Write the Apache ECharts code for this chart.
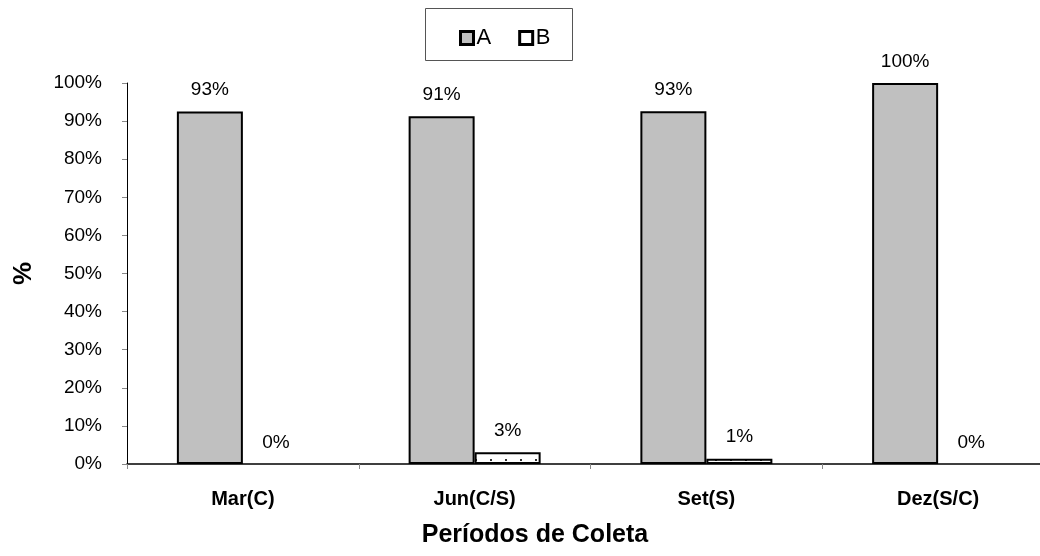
<!DOCTYPE html>
<html>
<head>
<meta charset="utf-8">
<script src="https://cdn.jsdelivr.net/npm/echarts@6/dist/echarts.min.js"></script>
<style>html,body{margin:0;padding:0;background:#fff;}#c{width:1040px;height:556px;}</style>
</head>
<body>
<div id="c"></div>
<script>
var categories = ['Mar(C)', 'Jun(C/S)', 'Set(S)', 'Dez(S/C)'];
var seriesA = [92.5, 91.3, 92.6, 100];
var seriesB = [0, 3.1, 1.4, 0];
var yTicks = [0, 10, 20, 30, 40, 50, 60, 70, 80, 90, 100];

var FONT = '"Liberation Sans", Arial, sans-serif';

var pc = document.createElement('canvas');
pc.width = 15; pc.height = 16;
var g = pc.getContext('2d');
g.fillStyle = '#fff'; g.fillRect(0, 0, 15, 16);
g.fillStyle = '#333';
g.fillRect(3, 3, 2, 2);
g.fillRect(10, 11, 2, 2);

function toItems(arr) {
  return arr.map(function (v) {
    return v === 0 ? { value: v, itemStyle: { borderWidth: 0 } } : v;
  });
}

var chart = echarts.init(document.getElementById('c'));
var labelCfg = {
  show: true, position: 'top', distance: 12,
  fontFamily: FONT, fontSize: 19, color: '#000',
  formatter: function (p) { return Math.round(p.value) + '%'; }
};
chart.setOption({
  animation: false,
  backgroundColor: '#fff',
  graphic: [
    { type: 'rect', shape: { x: 425.5, y: 8.5, width: 147, height: 52 },
      style: { fill: 'none', stroke: '#555', lineWidth: 1 } },
    { type: 'text', x: 535, y: 535,
      style: { text: 'Períodos de Coleta', fontFamily: FONT, fontSize: 25, fontWeight: 'bold',
        fill: '#000', textAlign: 'center', textVerticalAlign: 'middle' } }
  ],
  legend: {
    left: 454, top: 22, itemWidth: 13, itemHeight: 13, itemGap: 27,
    icon: 'rect',
    textStyle: { fontFamily: FONT, fontSize: 22, color: '#000', padding: [0, 0, 0, -2] },
    data: [
      { name: 'A', itemStyle: { color: '#c0c0c0', borderColor: '#000', borderWidth: 3 } },
      { name: 'B', itemStyle: { color: '#fff', borderColor: '#000', borderWidth: 3 } }
    ]
  },
  grid: { left: 127, top: 83, width: 927, height: 381, containLabel: false, outerBoundsMode: 'none' },
  xAxis: {
    type: 'category', data: categories,
    axisLine: { lineStyle: { color: '#000', width: 1.5 } },
    axisTick: { show: true, length: 5, lineStyle: { color: '#888' } },
    axisLabel: { margin: 25, fontFamily: FONT, fontSize: 20, fontWeight: 'bold', color: '#000' }
  },
  yAxis: {
    type: 'value', min: 0, max: 100, interval: 10,
    name: '%', nameLocation: 'middle', nameGap: 90, nameRotate: 90,
    nameTextStyle: { fontFamily: FONT, fontSize: 26, fontWeight: 'bold', color: '#000' },
    axisLine: { show: true, lineStyle: { color: '#000', width: 1 } },
    axisTick: { show: true, length: 5, lineStyle: { color: '#888' } },
    splitLine: { show: false },
    axisLabel: {
      margin: 25, fontFamily: FONT, fontSize: 19, color: '#000',
      formatter: function (v) { return yTicks.indexOf(v) >= 0 ? v + '%' : ''; }
    }
  },
  series: [
    { name: 'A', type: 'bar', data: toItems(seriesA), barWidth: 66, barGap: '0%',
      itemStyle: { color: '#c0c0c0', borderColor: '#000', borderWidth: 2 }, label: labelCfg },
    { name: 'B', type: 'bar', data: toItems(seriesB), barWidth: 66,
      itemStyle: { color: { image: pc, repeat: 'repeat' }, borderColor: '#000', borderWidth: 2 }, label: labelCfg }
  ]
});
</script>
</body>
</html>
